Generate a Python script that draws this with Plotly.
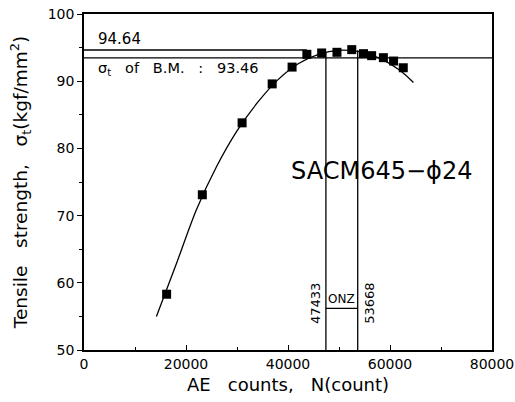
import plotly.graph_objects as go

# measured data points (AE counts, tensile strength)
ae_counts = [16200, 23200, 31000, 36900, 40800, 43700, 46600, 49600, 52500, 54800, 56400, 58700, 60700, 62600]
strength = [58.3, 73.1, 83.8, 89.6, 92.1, 94.0, 94.2, 94.3, 94.7, 94.1, 93.8, 93.5, 93.0, 92.0]

# fitted curve
curve_x = [14200, 18000, 22000, 26000, 30000, 34000, 38000, 42000, 46000, 50000, 54000, 58000, 62000, 64600]
curve_y = [55.0, 62.6, 70.8, 77.3, 82.6, 86.8, 90.2, 92.6, 94.0, 94.6, 94.4, 93.4, 91.6, 89.8]

x_ticks = [0, 20000, 40000, 60000, 80000]
y_ticks = [50, 60, 70, 80, 90, 100]

peak_value = 94.64
bm_value = 93.46
onz_low = 47433
onz_high = 53668
onz_level = 56.2

font = "DejaVu Sans"

fig = go.Figure()
fig.add_trace(go.Scatter(x=curve_x, y=curve_y, mode="lines",
                         line=dict(color="black", width=1.3, shape="spline", smoothing=0.8),
                         showlegend=False, hoverinfo="skip"))
fig.add_trace(go.Scatter(x=ae_counts, y=strength, mode="markers",
                         marker=dict(symbol="square", size=9, color="black"), showlegend=False))

# reference lines
fig.add_shape(type="line", x0=0, x1=43700, y0=peak_value, y1=peak_value, line=dict(color="black", width=1.3))
fig.add_shape(type="line", x0=0, x1=80000, y0=bm_value, y1=bm_value, line=dict(color="black", width=1.3))
fig.add_shape(type="line", x0=onz_low, x1=onz_low, y0=50, y1=94.2, line=dict(color="black", width=1.3))
fig.add_shape(type="line", x0=onz_high, x1=onz_high, y0=50, y1=94.6, line=dict(color="black", width=1.3))
fig.add_shape(type="line", x0=onz_low, x1=onz_high, y0=onz_level, y1=onz_level, line=dict(color="black", width=1.3))

ann = [
    dict(x=2300, y=peak_value, text=f"{peak_value:.2f}", xanchor="left", yanchor="bottom", font=dict(size=15)),
    dict(x=2300, y=bm_value, text=f"σ<sub>t</sub>   of   B.M.   :   {bm_value:.2f}", xanchor="left", yanchor="top", font=dict(size=14.5)),
    dict(x=58300, y=76.6, text="SACM645−ϕ24", xanchor="center", yanchor="middle", font=dict(size=24)),
    dict(x=onz_low, y=56.9, text=str(onz_low), xanchor="right", yanchor="middle", textangle=-90, xshift=-1, font=dict(size=13)),
    dict(x=onz_high, y=56.9, text=str(onz_high), xanchor="left", yanchor="middle", textangle=-90, xshift=2, font=dict(size=13)),
    dict(x=(onz_low + onz_high) / 2, y=onz_level, text="ONZ", xanchor="center", yanchor="bottom", font=dict(size=12)),
]
for a in ann:
    a.update(showarrow=False, xref="x", yref="y")
    a["font"].update(color="black", family=font)
fig.update_layout(annotations=ann)

fig.update_xaxes(range=[0, 80000], tickvals=x_ticks, ticktext=[str(v) for v in x_ticks], ticks="inside", ticklen=5,
                 minor=dict(tickvals=[10000, 30000, 50000, 70000], ticks="inside", ticklen=3, tickcolor="black"),
                 showgrid=False, zeroline=False, showline=True, linecolor="black", linewidth=1.5, mirror=True,
                 tickcolor="black", tickfont=dict(size=14, color="black", family=font), automargin=False,
                 ticklabeloverflow="allow",
                 title=dict(text="AE   counts,   N(count)", font=dict(size=18, color="black", family=font), standoff=8))
fig.update_yaxes(range=[50, 100], tickvals=y_ticks, ticktext=[str(v) for v in y_ticks], ticks="outside", ticklen=5,
                 minor=dict(tickvals=[55, 65, 75, 85, 95], ticks="outside", ticklen=3, tickcolor="black"),
                 showgrid=False, zeroline=False, showline=True, linecolor="black", linewidth=1.5, mirror=True,
                 tickcolor="black", tickfont=dict(size=14, color="black", family=font), automargin=False,
                 ticklabeloverflow="allow",
                 title=dict(text="Tensile   strength,   σ<sub>t</sub>(kgf/mm<sup>2</sup>)", font=dict(size=18.5, color="black", family=font), standoff=15))

fig.update_layout(width=515, height=402, margin=dict(l=84, r=23, t=14, b=52),
                  plot_bgcolor="white", paper_bgcolor="white", font=dict(family=font, color="black"))

# remove the default page margin so the figure fills the window exactly
fig.write_html("out.html", config={"displayModeBar": False},
               post_script="document.body.style.margin='0';document.body.style.overflow='hidden';")
